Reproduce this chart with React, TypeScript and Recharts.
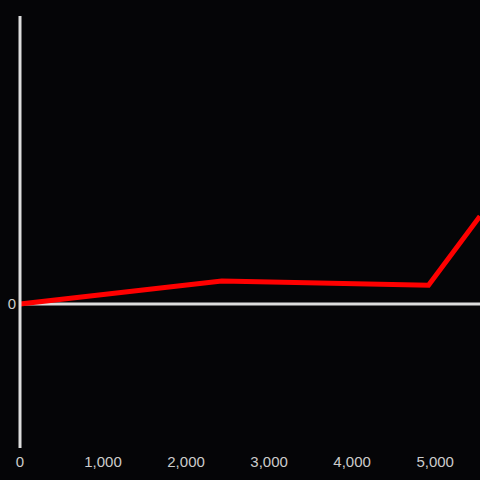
import { LineChart, Line, XAxis, YAxis, ReferenceLine } from 'recharts'

const xValues = [0, 2430, 4920, 5540]
const yValues = [0, 0.16, 0.13, 0.61]
const xTicks = [0, 1000, 2000, 3000, 4000, 5000]
const yTicks = [0]

const data = xValues.map((x, i) => ({ x, y: yValues[i] }))

const tickStyle = { fill: '#cccccc', fontSize: 15, fontFamily: 'Liberation Sans' }

export default function App() {
  return (
    <div style={{ position: 'fixed', top: 0, left: 0, width: 480, height: 480, background: '#050507' }}>
      <LineChart width={480} height={480} data={data} margin={{ top: 16, right: 0, bottom: 0, left: 0 }}>
        <XAxis
          dataKey="x"
          type="number"
          domain={[0, 5540]}
          ticks={xTicks}
          tickFormatter={(v: number) => v.toLocaleString('en-US')}
          axisLine={false}
          tickLine={false}
          height={32}
          tick={tickStyle}
        />
        <YAxis
          type="number"
          domain={[-1, 2]}
          ticks={yTicks}
          width={20}
          tickLine={false}
          tickSize={0}
          tickMargin={4}
          axisLine={{ stroke: '#dddddd', strokeWidth: 3 }}
          tick={tickStyle}
        />
        <ReferenceLine y={0} stroke="#dddddd" strokeWidth={3} />
        <Line
          type="linear"
          dataKey="y"
          stroke="#ff0000"
          strokeWidth={5}
          dot={false}
          isAnimationActive={false}
        />
      </LineChart>
    </div>
  )
}
